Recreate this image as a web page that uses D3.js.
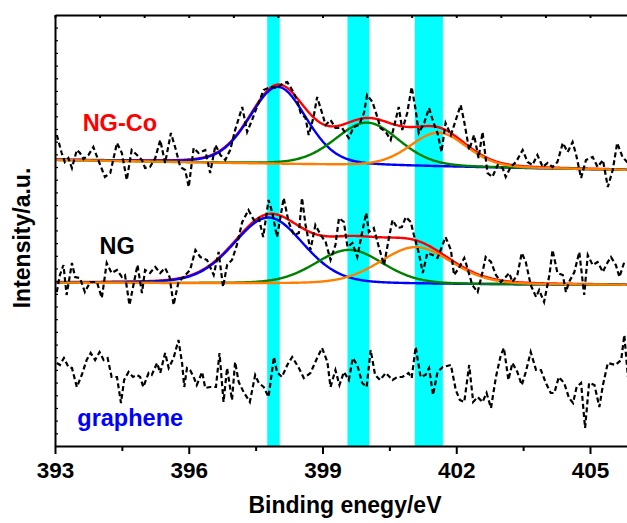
<!DOCTYPE html>
<html>
<head>
<meta charset="utf-8">
<script src="https://cdn.jsdelivr.net/npm/d3@7"></script>
<style>
body { margin: 0; background: #fff; }
svg { display: block; font-family: "Liberation Sans", Arial, sans-serif; font-weight: bold; }
</style>
</head>
<body>
<svg width="627" height="523"></svg>
<script>
// Raw spectra [binding energy eV, intensity a.u.]
var ngcoData = [[393.04,311],[393.15,293],[393.22,284],[393.30,288],[393.38,278],[393.49,296],[393.56,293],[393.64,287],[393.75,291],[393.86,299],[393.97,286],[394.12,269],[394.24,273],[394.39,303],[394.50,293],[394.61,266],[394.72,296],[394.84,291],[394.95,286],[395.02,278],[395.13,279],[395.25,288],[395.36,306],[395.47,283],[395.60,313],[395.70,298],[395.81,279],[395.92,276],[396.00,259],[396.11,298],[396.22,293],[396.37,296],[396.48,273],[396.60,301],[396.71,291],[396.82,286],[396.93,296],[397.04,316],[397.20,339],[397.31,314],[397.42,326],[397.53,339],[397.68,356],[397.83,359],[397.98,358],[398.13,363],[398.21,364],[398.32,356],[398.43,346],[398.51,333],[398.62,328],[398.69,311],[398.80,329],[398.88,349],[398.99,333],[399.07,321],[399.18,326],[399.29,318],[399.44,318],[399.59,308],[399.70,319],[399.82,321],[399.93,333],[400.00,351],[400.12,344],[400.23,329],[400.30,318],[400.42,314],[400.53,306],[400.64,326],[400.71,339],[400.79,316],[400.90,333],[401.00,359],[401.09,336],[401.16,313],[401.28,323],[401.39,338],[401.47,326],[401.58,313],[401.67,294],[401.76,323],[401.88,311],[401.99,326],[402.10,341],[402.18,324],[402.29,296],[402.40,311],[402.50,288],[402.59,314],[402.70,273],[402.81,269],[402.93,281],[403.04,278],[403.11,269],[403.22,279],[403.34,284],[403.49,296],[403.60,284],[403.71,281],[403.82,291],[403.94,279],[404.05,283],[404.16,279],[404.27,284],[404.39,303],[404.50,294],[404.61,304],[404.69,291],[404.80,268],[404.91,286],[405.06,289],[405.17,279],[405.29,286],[405.40,259],[405.51,276],[405.61,303],[405.73,289],[405.85,283]];

var ngData = [[393.04,154],[393.11,171],[393.19,181],[393.26,151],[393.38,183],[393.45,169],[393.56,168],[393.67,154],[393.79,164],[393.94,164],[394.05,148],[394.16,183],[394.27,173],[394.39,176],[394.50,169],[394.57,171],[394.67,141],[394.76,161],[394.85,181],[394.95,153],[395.02,176],[395.13,173],[395.25,179],[395.36,173],[395.47,178],[395.57,169],[395.66,141],[395.77,164],[395.88,169],[396.03,176],[396.15,196],[396.26,189],[396.41,186],[396.56,171],[396.67,194],[396.77,159],[396.86,181],[396.97,186],[397.08,201],[397.20,224],[397.34,236],[397.46,226],[397.57,228],[397.67,209],[397.79,246],[397.87,234],[397.98,209],[398.13,248],[398.24,224],[398.36,211],[398.47,213],[398.54,248],[398.62,221],[398.73,196],[398.84,221],[398.96,211],[399.07,204],[399.18,186],[399.29,201],[399.37,228],[399.48,224],[399.56,199],[399.67,203],[399.78,189],[399.89,214],[399.98,233],[400.04,214],[400.15,218],[400.27,198],[400.38,181],[400.49,208],[400.57,226],[400.68,218],[400.78,219],[400.87,229],[400.98,224],[401.05,211],[401.16,193],[401.25,173],[401.35,193],[401.47,191],[401.58,188],[401.65,196],[401.76,209],[401.88,196],[401.95,171],[402.06,178],[402.18,188],[402.25,178],[402.36,161],[402.48,154],[402.59,174],[402.66,189],[402.78,184],[402.89,171],[403.00,164],[403.11,169],[403.19,173],[403.26,164],[403.37,171],[403.47,193],[403.56,184],[403.67,161],[403.79,149],[403.86,156],[403.97,144],[404.09,171],[404.16,196],[404.27,173],[404.39,171],[404.46,154],[404.53,164],[404.65,174],[404.76,194],[404.87,151],[404.95,191],[405.06,181],[405.17,184],[405.29,174],[405.36,181],[405.47,189],[405.58,181],[405.66,169],[405.77,184]];

var grapheneData = [[393.04,83],[393.11,81],[393.20,88],[393.30,79],[393.38,78],[393.49,59],[393.60,71],[393.71,86],[393.80,93],[393.90,86],[394.00,94],[394.09,86],[394.18,88],[394.27,69],[394.39,69],[394.48,43],[394.55,66],[394.65,74],[394.75,69],[394.84,71],[394.91,69],[394.98,59],[395.10,73],[395.17,71],[395.29,83],[395.36,73],[395.47,93],[395.55,78],[395.66,88],[395.77,106],[395.85,83],[395.90,59],[395.96,78],[396.03,76],[396.11,69],[396.18,61],[396.30,74],[396.37,58],[396.48,59],[396.61,59],[396.69,93],[396.78,44],[396.86,78],[396.97,46],[397.04,84],[397.12,64],[397.23,54],[397.37,44],[397.49,71],[397.57,63],[397.68,59],[397.79,49],[397.91,89],[397.98,74],[398.09,69],[398.21,81],[398.32,89],[398.47,78],[398.58,68],[398.73,73],[398.88,88],[398.99,98],[399.11,84],[399.18,59],[399.29,76],[399.38,61],[399.48,74],[399.59,66],[399.68,88],[399.78,81],[399.89,63],[399.99,59],[400.08,96],[400.18,71],[400.29,66],[400.42,73],[400.57,66],[400.68,69],[400.79,69],[400.93,73],[401.00,68],[401.09,99],[401.20,69],[401.31,71],[401.39,78],[401.48,51],[401.58,74],[401.70,79],[401.88,81],[401.99,56],[402.08,46],[402.18,44],[402.29,81],[402.38,44],[402.48,49],[402.59,44],[402.68,53],[402.78,38],[402.89,69],[403.00,91],[403.07,98],[403.17,66],[403.26,83],[403.37,74],[403.47,61],[403.56,74],[403.67,94],[403.79,76],[403.90,76],[404.01,63],[404.12,53],[404.20,53],[404.30,69],[404.42,63],[404.53,48],[404.62,43],[404.70,59],[404.80,63],[404.89,18],[404.98,63],[405.10,61],[405.21,39],[405.29,61],[405.40,83],[405.57,81],[405.70,86],[405.77,111],[405.85,69]];

// Fitted peaks [centre eV, height, FWHM eV]: pyridinic, pyrrolic, graphitic
var ngcoPeaks = [[398.0, 77, 1.5], [400.0, 42.8, 1.7], [401.6, 34, 1.5]];
var ngPeaks = [[397.79, 66, 1.85], [399.6, 34, 1.8], [401.09, 37, 1.9]];
// linear background [at 393 eV, at 405.83 eV]
var ngcoBase = [286, 276];
var ngBase = [163.3, 161];
var peakColors = ["#0000ff", "#008000", "#ff8000"];
var glMix = 0.2;

// Highlight bands [from eV, to eV]
var bands = [[397.76, 398.04], [399.56, 400.05], [401.07, 401.70]];

var majorTicks = [393, 396, 399, 402, 405];
var minorTicks = [394.5, 397.5, 400.5, 403.5];
var topTicks = [393, 394, 395, 396, 397, 398, 399, 400, 401, 402, 403, 404, 405];
var yTickStep = 12.68;

var labels = [
	{ text: "NG-Co", e: 393.62, v: 315.5, color: "#ff0000" },
	{ text: "NG", e: 394.0, v: 192, color: "#000000" },
	{ text: "graphene", e: 393.5, v: 20, color: "#0000ff" }
];

var svg = d3.select("svg"),
	width = +svg.attr("width"),
	height = +svg.attr("height");

var x = d3.scaleLinear().domain([393, 405.83]).range([55, 627]);
var y = d3.scaleLinear().domain([0, 431]).range([446, 15]);

svg.append("defs").append("clipPath").attr("id", "plot")
	.append("rect")
	.attr("x", x(393)).attr("y", y(431))
	.attr("width", x(405.83) - x(393)).attr("height", y(0) - y(431));

// Bands
svg.append("g")
	.selectAll("rect")
	.data(bands)
	.enter().append("rect")
	.attr("x", (d) => x(d[0]))
	.attr("width", (d) => x(d[1]) - x(d[0]))
	.attr("y", y(431))
	.attr("height", y(0) - y(431))
	.attr("fill", "#00ffff");

var plot = svg.append("g").attr("clip-path", "url(#plot)");

// Gaussian-Lorentzian peak
function glPeak(e, p) {
	var u = (e - p[0]) * (e - p[0]) / (p[2] * p[2]);
	return p[1] * ((1 - glMix) * Math.exp(-4 * Math.LN2 * u) + glMix / (1 + 4 * u));
}

function background(e, b) {
	return b[0] + (b[1] - b[0]) * (e - 393) / (405.83 - 393);
}

var energies = d3.range(393, 405.84, 0.02);
var line = d3.line().x((d) => x(d[0])).y((d) => y(d[1]));

function drawFit(peaks, base) {
	// envelope
	var sum = energies.map((e) => [e, background(e, base) + d3.sum(peaks, (p) => glPeak(e, p))]);
	plot.append("path").datum(sum)
		.attr("d", line)
		.attr("fill", "none")
		.attr("stroke", "#ff0000")
		.attr("stroke-width", 2.4);
	peaks.forEach((p, i) => {
		var comp = energies.map((e) => [e, background(e, base) + glPeak(e, p)]);
		plot.append("path").datum(comp)
			.attr("d", line)
			.attr("fill", "none")
			.attr("stroke", peakColors[i])
			.attr("stroke-width", 2.4);
	});
}

drawFit(ngcoPeaks, ngcoBase);
drawFit(ngPeaks, ngBase);

// Raw data, dashed
[ngcoData, ngData, grapheneData].forEach((data) => {
	plot.append("path").datum(data)
		.attr("d", line)
		.attr("fill", "none")
		.attr("stroke", "#000")
		.attr("stroke-width", 2.2)
		.attr("stroke-dasharray", "5,3");
});

// Axes
var bottom = svg.append("g")
	.attr("transform", "translate(0," + y(0) + ")")
	.call(d3.axisBottom(x).tickValues(majorTicks).tickSize(8).tickPadding(8).tickSizeOuter(0));
bottom.selectAll("text").attr("font-size", 22.5).attr("font-family", null).attr("fill", "#000");

svg.append("g")
	.attr("transform", "translate(0," + y(0) + ")")
	.call(d3.axisBottom(x).tickValues(minorTicks).tickSize(5).tickFormat(""))
	.select(".domain").remove();

svg.append("g")
	.attr("transform", "translate(0," + y(431) + ")")
	.call(d3.axisTop(x).tickValues(topTicks).tickSize(-3).tickSizeOuter(0).tickFormat(""));

svg.append("g")
	.attr("transform", "translate(" + x(393) + ",0)")
	.call(d3.axisLeft(y).tickValues(d3.range(1, 34).map((k) => k * yTickStep)).tickSize(-3).tickSizeOuter(0).tickFormat(""))
	.selectAll(".tick line").attr("stroke-width", 1.2);

svg.selectAll(".domain").attr("stroke", "#000").attr("stroke-width", 2);
svg.selectAll(".tick line").filter(function () { return d3.select(this).attr("stroke-width") == null; })
	.attr("stroke-width", 2);

// Axis titles
svg.append("text")
	.attr("x", 345)
	.attr("y", 513)
	.attr("text-anchor", "middle")
	.attr("font-size", 23)
	.text("Binding enegy/eV");

svg.append("text")
	.attr("transform", "translate(29.5,238) rotate(-90)")
	.attr("text-anchor", "middle")
	.attr("font-size", 23)
	.text("Intensity/a.u.");

// Spectrum labels
svg.append("g")
	.selectAll("text")
	.data(labels)
	.enter().append("text")
	.attr("x", (d) => x(d.e))
	.attr("y", (d) => y(d.v))
	.attr("font-size", 23.5)
	.attr("fill", (d) => d.color)
	.text((d) => d.text);
</script>
</body>
</html>
